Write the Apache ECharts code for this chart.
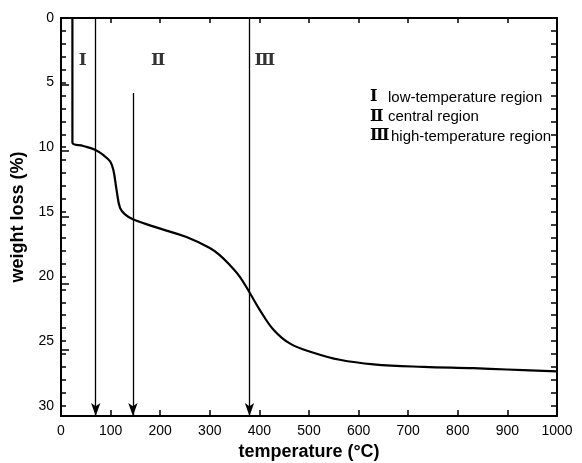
<!DOCTYPE html>
<html>
<head>
<meta charset="utf-8">
<script src="https://cdn.jsdelivr.net/npm/echarts@6/dist/echarts.min.js"></script>
<style>
  html, body { margin: 0; padding: 0; background: #fff; }
  #chart { width: 582px; height: 463px; }
</style>
</head>
<body>
<div id="chart"></div>
<script>
// Thermogravimetric curve: weight loss versus temperature
const temperature = [23, 23, 45, 68.5, 85, 99, 105.5, 112, 119, 129, 146, 200, 253, 300, 320, 341, 361, 381, 401, 428, 462, 509, 562, 630, 730, 831, 899, 1000];
const weightLoss  = [0, 9.64, 9.9, 10.2, 10.6, 11.1, 11.75, 13.3, 14.7, 15.2, 15.6, 16.3, 16.95, 17.8, 18.35, 19.15, 20.05, 21.3, 22.6, 24.1, 25.2, 25.9, 26.45, 26.8, 27.0, 27.1, 27.2, 27.35];

// Region boundaries marked by arrows (temperature, starting weight loss)
const arrowTemps = [70, 145, 380];
const arrowStart = [0, 5.8, 0];

// Region numerals drawn inside the plot
const regionNumerals = ['Ⅰ', 'Ⅱ', 'Ⅲ'];
const numeralTemps = [44, 196, 411];
const numeralLoss = [3.3, 3.3, 3.3];

// Key text
const regionNames = ['low-temperature region', 'central region', 'high-temperature region'];

const xTicks = [0, 100, 200, 300, 400, 500, 600, 700, 800, 900, 1000];
const yMax = 30.8;

const chart = echarts.init(document.getElementById('chart'));
const font = '"Liberation Sans", Arial, sans-serif';
const serif = '"DejaVu Serif", serif';

const curve = temperature.map((t, i) => [t, weightLoss[i]]);
const arrowLines = arrowTemps.map((t, i) => [
  { coord: [t, arrowStart[i]] },
  { coord: [t, yMax] }
]);
const numeralData = numeralTemps.map((t, i) => [t, numeralLoss[i], regionNumerals[i]]);

const keyTextLeft = [388, 388, 391];
const keyGraphics = [];
regionNames.forEach((name, i) => {
  keyGraphics.push({
    type: 'text', left: 370, top: 89 + i * 19.5,
    style: { text: regionNumerals[i], font: 'bold 16px ' + serif, fill: '#000' }
  });
  keyGraphics.push({
    type: 'text', left: keyTextLeft[i], top: 90 + i * 19.5,
    style: { text: name, font: '15px ' + font, fill: '#000' }
  });
});

const frameLine = { onZero: false, lineStyle: { color: '#000', width: 2 } };

chart.setOption({
  animation: false,
  backgroundColor: '#fff',
  grid: { left: 61, right: 25, top: 18, bottom: 47, containLabel: false, outerBoundsMode: 'none' },
  xAxis: [
    {
      type: 'value', min: 0, max: 1000, interval: 100, position: 'bottom',
      name: 'temperature (°C)', nameLocation: 'middle', nameGap: 26,
      nameTextStyle: { fontFamily: font, fontWeight: 'bold', fontSize: 18, color: '#000' },
      axisLine: frameLine,
      axisTick: { inside: true, length: 6, lineStyle: { color: '#000', width: 1.5 } },
      axisLabel: { fontFamily: font, fontSize: 14, color: '#000', margin: 8,
        formatter: v => xTicks.includes(v) ? String(v) : '' },
      splitLine: { show: false }
    },
    {
      type: 'value', min: 0, max: 1000, interval: 100, position: 'top',
      axisLine: frameLine,
      axisTick: { inside: true, length: 5, lineStyle: { color: '#000', width: 1.5 } },
      axisLabel: { show: false },
      splitLine: { show: false }
    }
  ],
  yAxis: [
    {
      type: 'value', inverse: true, min: 0, max: yMax, interval: 1, position: 'left',
      name: 'weight loss (%)', nameLocation: 'middle', nameGap: 31,
      nameTextStyle: { fontFamily: font, fontWeight: 'bold', fontSize: 18, color: '#000' },
      axisLine: frameLine,
      axisTick: { inside: true, length: 5, lineStyle: { color: '#000', width: 1.5 } },
      axisLabel: { fontFamily: font, fontSize: 14, color: '#000', margin: 7,
        formatter: v => (Math.abs(v % 5) < 1e-9 ? String(v) : '') },
      splitLine: { show: false }
    },
    {
      type: 'value', inverse: true, min: 0, max: yMax, interval: 1, position: 'right',
      axisLine: frameLine,
      axisTick: { inside: true, length: 6, lineStyle: { color: '#000', width: 1.5 } },
      axisLabel: { show: false },
      splitLine: { show: false }
    },
    {
      // longer ticks every 5 % on the left side
      type: 'value', inverse: true, min: 0, max: 30, interval: 5, position: 'left',
      axisLine: { show: false, onZero: false },
      axisTick: { inside: true, length: 8, lineStyle: { color: '#000', width: 1.5 } },
      axisLabel: { show: false },
      splitLine: { show: false }
    }
  ],
  graphic: keyGraphics,
  series: [
    {
      type: 'line', xAxisIndex: 0, yAxisIndex: 0,
      data: curve, smooth: 0.4, symbol: 'none',
      lineStyle: { color: '#000', width: 2.2 }
    },
    {
      type: 'line', xAxisIndex: 0, yAxisIndex: 0, data: [], symbol: 'none',
      markLine: {
        silent: true, symbol: ['none', 'arrow'], symbolSize: [7, 13],
        label: { show: false },
        lineStyle: { color: '#000', width: 1.3, type: 'solid' },
        data: arrowLines
      }
    },
    {
      type: 'scatter', xAxisIndex: 0, yAxisIndex: 0,
      data: numeralData, symbolSize: 0,
      label: {
        show: true, position: 'inside', formatter: p => p.data[2],
        fontFamily: serif, fontWeight: 'bold', fontSize: 17, color: '#000'
      }
    }
  ]
});
</script>
</body>
</html>
